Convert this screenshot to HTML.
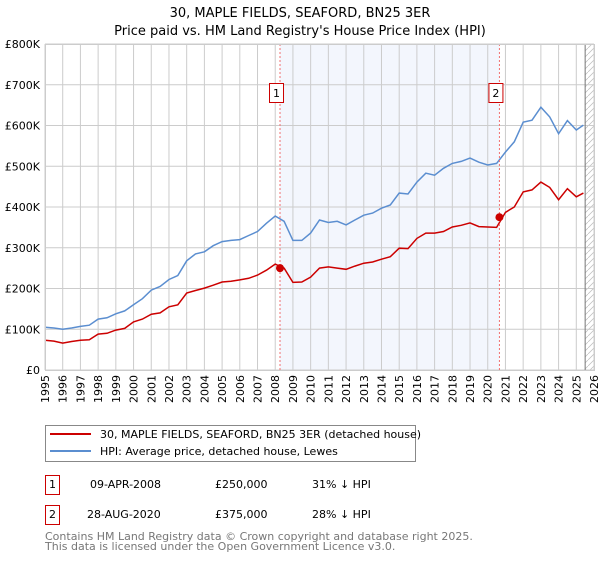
<!DOCTYPE html>
<html><head><meta charset="utf-8"><style>
body{margin:0;background:#fff;font-family:"DejaVu Sans","Liberation Sans",sans-serif;}
svg text{font-family:"DejaVu Sans","Liberation Sans",sans-serif;}
</style></head><body>
<svg id="chart" width="600" height="560" viewBox="0 0 600 560" xmlns="http://www.w3.org/2000/svg">
<defs><pattern id="hatch" width="6" height="6" patternUnits="userSpaceOnUse"><path d="M0,6 L6,0" stroke="#bbb" stroke-width="0.7"/></pattern></defs>
<text x="300" y="17" font-size="13" text-anchor="middle" fill="#000">30, MAPLE FIELDS, SEAFORD, BN25 3ER</text>
<text x="300" y="35" font-size="13" text-anchor="middle" fill="#000">Price paid vs. HM Land Registry's House Price Index (HPI)</text>
<g id="plot"></g>
<g>
<rect x="45.5" y="425.5" width="370" height="36" fill="#fff" stroke="#888"/>
<line x1="50" y1="434" x2="91" y2="434" stroke="#cc0000" stroke-width="2"/>
<text x="100" y="438" font-size="11">30, MAPLE FIELDS, SEAFORD, BN25 3ER (detached house)</text>
<line x1="50" y1="451" x2="91" y2="451" stroke="#5b8ed0" stroke-width="2"/>
<text x="100" y="455" font-size="11">HPI: Average price, detached house, Lewes</text>
</g>
<g font-size="11">
<rect x="45.5" y="475.5" width="14" height="19" fill="#fff" stroke="#cc0000"/>
<text x="52.5" y="488" text-anchor="middle">1</text>
<text x="90" y="488">09-APR-2008</text><text x="215" y="488">£250,000</text><text x="312" y="488">31% ↓ HPI</text>
<rect x="45.5" y="505.5" width="14" height="19" fill="#fff" stroke="#cc0000"/>
<text x="52.5" y="518" text-anchor="middle">2</text>
<text x="87" y="518">28-AUG-2020</text><text x="215" y="518">£375,000</text><text x="312" y="518">28% ↓ HPI</text>
</g>
<text x="45" y="540" font-size="11" fill="#777">Contains HM Land Registry data © Crown copyright and database right 2025.</text>
<text x="45" y="550" font-size="11" fill="#777">This data is licensed under the Open Government Licence v3.0.</text>
</svg>
<script>
const dates=[1995,1995.5,1996,1996.5,1997,1997.5,1998,1998.5,1999,1999.5,2000,2000.5,2001,2001.5,2002,2002.5,2003,2003.5,2004,2004.5,2005,2005.5,2006,2006.5,2007,2007.5,2008,2008.5,2009,2009.5,2010,2010.5,2011,2011.5,2012,2012.5,2013,2013.5,2014,2014.5,2015,2015.5,2016,2016.5,2017,2017.5,2018,2018.5,2019,2019.5,2020,2020.5,2021,2021.5,2022,2022.5,2023,2023.5,2024,2024.5,2025,2025.4];
const hpiValues=[105,103,100,103,107,110,125,128,138,145,160,175,196,205,222,232,268,285,290,305,315,318,320,330,340,360,378,365,318,318,336,368,362,365,356,368,380,385,397,405,434,432,461,483,478,495,507,512,520,510,503,507,535,560,608,613,645,621,580,612,589,601];
const propValues=[73,71,66,70,73,74,88,90,98,102,118,125,137,140,155,160,189,195,201,208,216,218,221,225,233,245,260,250,215,216,228,250,253,250,247,255,262,265,272,278,299,298,323,336,336,340,351,355,361,352,351,350,387,400,437,442,461,448,418,445,425,434];
const saleDates=[2008.27,2020.66];
const salePrices=[250,375];
const saleLabels=["1","2"];
const yTicks=[0,100,200,300,400,500,600,700,800];
const yTickLabels=["£0","£100K","£200K","£300K","£400K","£500K","£600K","£700K","£800K"];
const xTicks=[];for(let y=1995;y<=2026;y++)xTicks.push(y);
const X0=45,X1=594,Y0=370,Y1=44;
const xs=d=>X0+(d-1995)/(2026-1995)*(X1-X0);
const ys=v=>Y0-v/800*(Y0-Y1);
const NS="http://www.w3.org/2000/svg";
const g=document.getElementById('plot');
function mk(t,a){const e=document.createElementNS(NS,t);for(const k in a)e.setAttribute(k,a[k]);g.appendChild(e);return e;}
let e;
e=mk('rect',{x:X0,y:Y1,width:X1-X0,height:Y0-Y1,fill:'#fff'});


e=mk('rect',{x:xs(saleDates[0]),y:Y1,width:xs(saleDates[1])-xs(saleDates[0]),height:Y0-Y1,fill:'#f3f6fd'});


e=mk('rect',{x:xs(2025.5),y:Y1,width:X1-xs(2025.5),height:Y0-Y1,fill:'url(#hatch)'});


xTicks.forEach(t=>{
 e=mk('line',{x1:xs(t),x2:xs(t),y1:Y1,y2:Y0,stroke:'#ccc','stroke-width':1});
 
 
 e=mk('text',{transform:`translate(${xs(t)+4},375) rotate(-90)`,'font-size':11,'text-anchor':'end'});
 e.textContent=t;
 
 
});
yTicks.forEach((t,i)=>{
 e=mk('line',{x1:X0,x2:X1,y1:ys(t),y2:ys(t),stroke:'#ccc','stroke-width':1});
 
 
 e=mk('text',{x:40,y:ys(t)+4,'font-size':11,'text-anchor':'end'});
 e.textContent=yTickLabels[i];
 
 
});
e=mk('line',{x1:xs(2025.5),x2:xs(2025.5),y1:Y1,y2:Y0,stroke:'#777','stroke-width':1});


function path(vals){return vals.map((v,i)=>(i?'L':'M')+xs(dates[i]).toFixed(1)+','+ys(v).toFixed(1)).join(' ');}
e=mk('path',{d:path(hpiValues),fill:'none',stroke:'#5b8ed0','stroke-width':1.5});


e=mk('path',{d:path(propValues),fill:'none',stroke:'#cc0000','stroke-width':1.5});


saleDates.forEach((d,i)=>{
 e=mk('line',{x1:xs(d),x2:xs(d),y1:Y1,y2:Y0,stroke:'#f07070','stroke-width':1,'stroke-dasharray':'2,2'});
 
 
 e=mk('circle',{cx:xs(d),cy:ys(salePrices[i]),r:4,fill:'#cc0000'});
 
 
 e=mk('rect',{x:xs(d)-10.5,y:83.5,width:14,height:19,fill:'#fff',stroke:'#cc0000'});
 
 
 e=mk('text',{x:xs(d)-3.5,y:97,'font-size':11,'text-anchor':'middle'});
 e.textContent=saleLabels[i];
 
 
});
e=mk('rect',{x:X0+0.5,y:Y1+0.5,width:X1-X0,height:Y0-Y1,fill:'none',stroke:'#ccc'});


</script>
</body></html>
